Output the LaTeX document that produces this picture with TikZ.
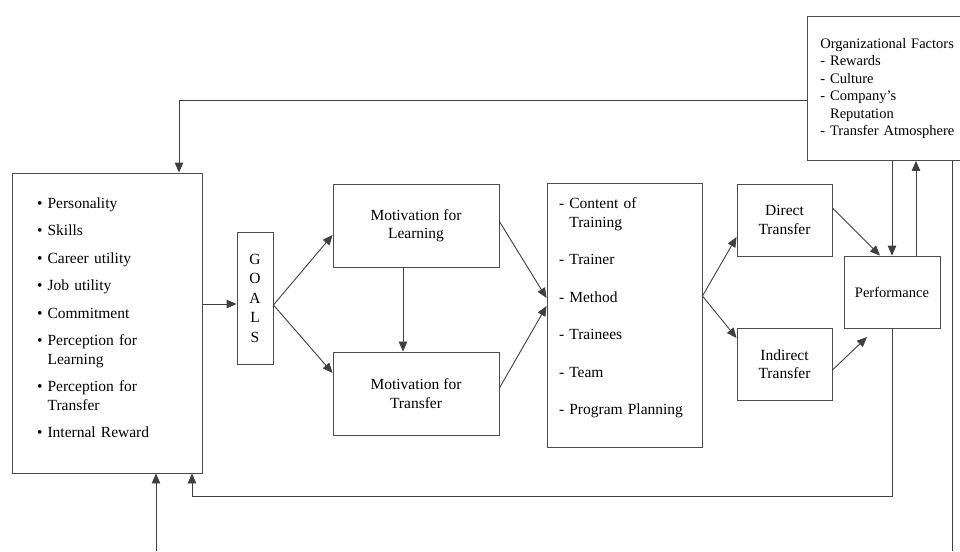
\documentclass[tikz,border=0pt]{standalone}
\usepackage{fontspec}
\setmainfont{Liberation Serif}
\usetikzlibrary{arrows.meta}
\begin{document}
\begin{tikzpicture}[x=1pt,y=-1pt,
box/.style={draw=black!70,line width=0.9pt,inner sep=0pt,align=center},
arr/.style={draw=black!75,line width=0.9pt,-{Triangle[length=10pt,width=8.5pt]}},
lin/.style={draw=black!75,line width=0.9pt},
font=\fontsize{15.5}{18.5}\selectfont]
\clip(0,0)rectangle(960,551);
\node[box,minimum width=190pt,minimum height=300pt,align=left,text width=140pt,inner xsep=25pt](indiv)at(107,323){\textbullet\ Personality\\[9pt]\textbullet\ Skills\\[9pt]\textbullet\ Career utility\\[9pt]\textbullet\ Job utility\\[9pt]\textbullet\ Commitment\\[9pt]\textbullet\ Perception for\\\hphantom{\textbullet\ }Learning\\[9pt]\textbullet\ Perception for\\\hphantom{\textbullet\ }Transfer\\[9pt]\textbullet\ Internal Reward\rule[-11pt]{0pt}{0pt}};
\node[box,minimum width=36pt,minimum height=132pt,font=\fontsize{15.5}{19.5}\selectfont](goals)at(255,298){G\\O\\A\\L\\S};
\node[box,minimum width=166pt,minimum height=83pt](motlearn)at(416,225.5){Motivation for\\Learning};
\node[box,minimum width=166pt,minimum height=83pt](mottrans)at(416,393.5){Motivation for\\Transfer};
\node[box,minimum width=155pt,minimum height=264pt,align=left,text width=131pt,inner xsep=12pt](content)at(624.5,315){- Content of\\\hphantom{- }Training\\[19pt]- Trainer\\[19pt]- Method\\[19pt]- Trainees\\[19pt]- Team\\[19pt]- Program Planning\rule[-17pt]{0pt}{0pt}};
\node[box,minimum width=95pt,minimum height=72pt](direct)at(784.5,220){Direct\\Transfer};
\node[box,minimum width=95pt,minimum height=72pt](indirect)at(784.5,364){Indirect\\Transfer};
\node[box,minimum width=96pt,minimum height=72pt,font=\fontsize{14.5}{17.4}\selectfont](perf)at(892,292){Performance};
\node[box,anchor=north west,minimum width=168pt,minimum height=144pt,align=left,text width=142pt,inner xsep=13pt,font=\fontsize{14.5}{17.4}\selectfont](org)at(807,16){Organizational Factors\\- Rewards\\- Culture\\- Company’s\\\hphantom{- }Reputation\\- Transfer Atmosphere};
\coordinate(g1)at([yshift=-6pt]goals.west);
\draw[arr](g1-|indiv.east)--(g1);
\draw[arr]([yshift=-7pt]goals.east)--([yshift=-9.5pt]motlearn.west);
\draw[arr]([yshift=-7pt]goals.east)--([yshift=20.5pt]mottrans.west);
\draw[arr]([xshift=-13pt]motlearn.south)--([xshift=-13pt]mottrans.north);
\draw[arr]([yshift=4pt]motlearn.east)--([yshift=17pt]content.west);
\draw[arr]([yshift=5.5pt]mottrans.east)--([yshift=9pt]content.west);
\draw[arr]([yshift=19pt]content.east)--([yshift=-17pt]direct.west);
\draw[arr]([yshift=19pt]content.east)--([yshift=26pt]indirect.west);
\coordinate(pin)at(867,337);
\draw[arr]([yshift=12pt]direct.east)--([xshift=-12pt]perf.north);
\draw[arr]([yshift=-6pt]indirect.east)--(pin);
\draw[arr](perf.north|-org.south)--(perf.north);
\coordinate(pup)at([xshift=24pt]perf.north);
\draw[arr](pup)--(pup|-org.south);
\coordinate(o1)at([yshift=-11.5pt]org.west);
\coordinate(i1)at([xshift=72pt]indiv.north);
\draw[arr](o1)-|(i1);
\coordinate(fb)at(0,496);
\coordinate(i2)at([xshift=85pt]indiv.south);
\draw[arr](perf.south)|-(fb-|i2)--(i2);
\coordinate(rt)at(952,551);
\draw[lin](org.south-|rt)--(rt);
\coordinate(bt)at(156,551);
\draw[arr](bt)--(bt|-indiv.south);
\end{tikzpicture}
\end{document}
